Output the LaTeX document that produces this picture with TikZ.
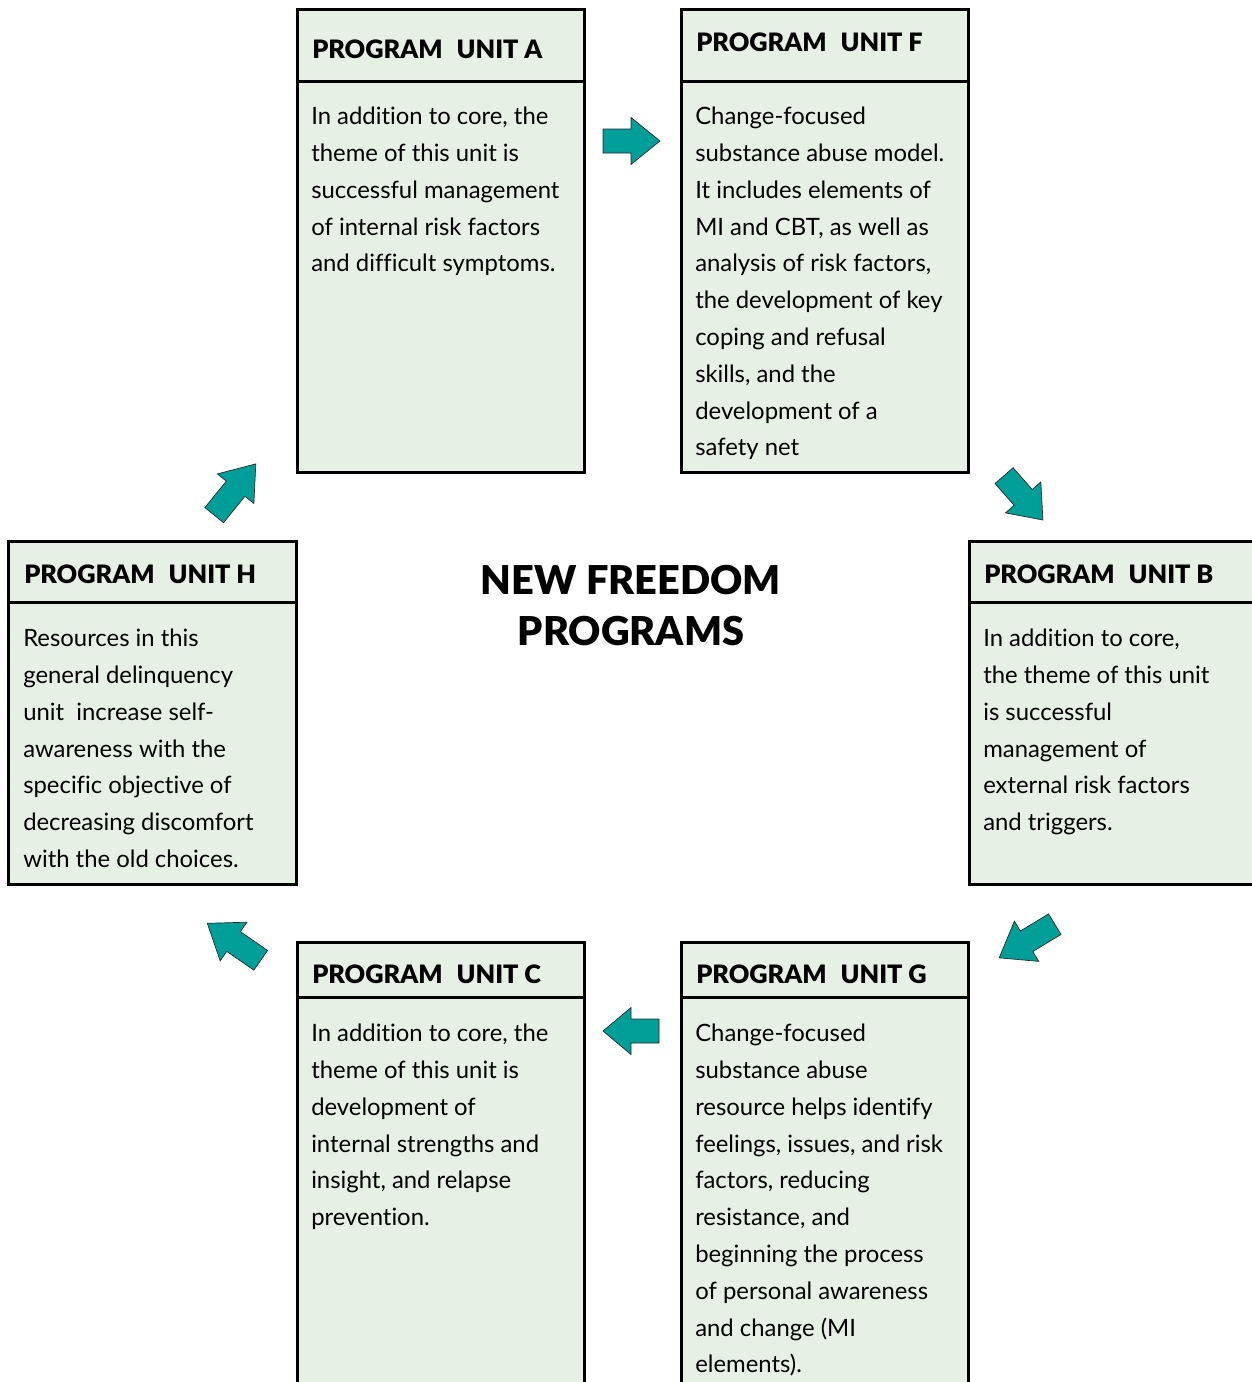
\documentclass[tikz,border=0pt]{standalone}
\usepackage{fontspec}
\setmainfont{Lato}[Ligatures=NoCommon]
\newfontfamily\heavyfont{Lato Black}[Ligatures=NoCommon]
\definecolor{boxfill}{RGB}{230,240,228}
\definecolor{arrowteal}{RGB}{0,158,152}

% a unit box: name, left, top, right, bottom, y of the header rule (pixel units)
\newcommand{\unitbox}[6]{%
  \node[unitbox, anchor=north west,
        minimum width={(#4-#2)*0.75pt}, minimum height={(#5-#3)*0.75pt}] (#1) at (#2,#3) {};
  \coordinate (#1sep) at (0,#6);
  \draw[border] (#1.west |- #1sep) -- (#1.east |- #1sep);}

% a block arrow: centre, direction angle, length, head length
\newcommand{\blockarr}[4]{%
  \begin{scope}[shift={#1}, rotate=#2]
    \draw[blockarrow] (-#3/2,-12) -- ({#3/2-#4},-12) -- ({#3/2-#4},-23.5) -- (#3/2,0)
      -- ({#3/2-#4},23.5) -- ({#3/2-#4},12) -- (-#3/2,12) -- cycle;
  \end{scope}}

\begin{document}
\begin{tikzpicture}[x=0.75pt,y=-0.75pt,
  border/.style={line width=2.25pt},
  unitbox/.style={draw, border, fill=boxfill, inner sep=0pt, outer sep=0pt},
  head/.style={font=\heavyfont\fontsize{19}{22}\selectfont, inner sep=0pt, anchor=base west},
  body/.style={font=\fontsize{17.9}{27.6}\selectfont, inner sep=0pt, anchor=north west, align=left},
  title/.style={font=\heavyfont\fontsize{29.8}{38.25}\selectfont, inner sep=0pt, anchor=north, align=center},
  blockarrow/.style={fill=arrowteal, draw=black!85, line width=0.5pt, line join=miter}]

\useasboundingbox (0,0) rectangle (1252,1382);
\clip (0,0) rectangle (1252,1382);

% boxes
\unitbox{A}{297}{9.5}{584}{472}{81}
\unitbox{F}{681}{9.5}{968}{472}{81}
\unitbox{H}{8.5}{541}{296}{884}{602}
\unitbox{B}{969}{541}{1275}{884}{602}
\unitbox{C}{297}{942}{584}{1420}{997}
\unitbox{G}{681}{942}{968}{1420}{997}

% headers
\node[head] (hA) at (312,58) {PROGRAM\hspace{0.55em}UNIT A};
\node[head] (hF) at (696,51) {PROGRAM\hspace{0.55em}UNIT F};
\node[head] (hH) at (24,583) {PROGRAM\hspace{0.55em}UNIT H};
\node[head] (hB) at (984,583) {PROGRAM\hspace{0.55em}UNIT B};
\node[head] (hC) at (312,983) {PROGRAM\hspace{0.55em}UNIT C};
\node[head] (hG) at (696,983) {PROGRAM\hspace{0.55em}UNIT G};

% body texts
\node[body] (tA) at (311,98.7) {\strut In addition to core, the\\theme of this unit is\\successful management\\of internal risk factors\\and difficult symptoms.};
\node[body] (tF) at (695,98.7) {\strut Change-focused\\substance abuse model.\\It includes elements of\\MI and CBT, as well as\\analysis of risk factors,\\the development of key\\coping and refusal\\skills, and the\\development of a\\safety net};
\node[body] (tH) at (23,620.7) {\strut Resources in this\\general delinquency\\unit\ \ increase self-\\awareness with the\\specific objective of\\decreasing discomfort\\with the old choices.};
\node[body] (tB) at (983,620.7) {\strut In addition to core,\\the theme of this unit\\is successful\\management of\\external risk factors\\and triggers.};
\node[body] (tC) at (311,1015.7) {\strut In addition to core, the\\theme of this unit is\\development of\\internal strengths and\\insight, and relapse\\prevention.};
\node[body] (tG) at (695,1015.7) {\strut Change-focused\\substance abuse\\resource helps identify\\feelings, issues, and risk\\factors, reducing\\resistance, and\\beginning the process\\of personal awareness\\and change (MI\\elements).};

% title
\node[title] (title) at (631,558.8) {\strut NEW FREEDOM\\PROGRAMS};

% cycle arrows
\blockarr{(631.5,141)}{0}{57}{29}
\blockarr{(1023.5,497.8)}{-48.8}{59}{30}
\blockarr{(1027,941)}{211.2}{65}{32}
\blockarr{(631,1031)}{180}{56}{28}
\blockarr{(234,941.8)}{145.3}{65}{32}
\blockarr{(235,489.5)}{50.9}{66}{32}

\end{tikzpicture}
\end{document}
